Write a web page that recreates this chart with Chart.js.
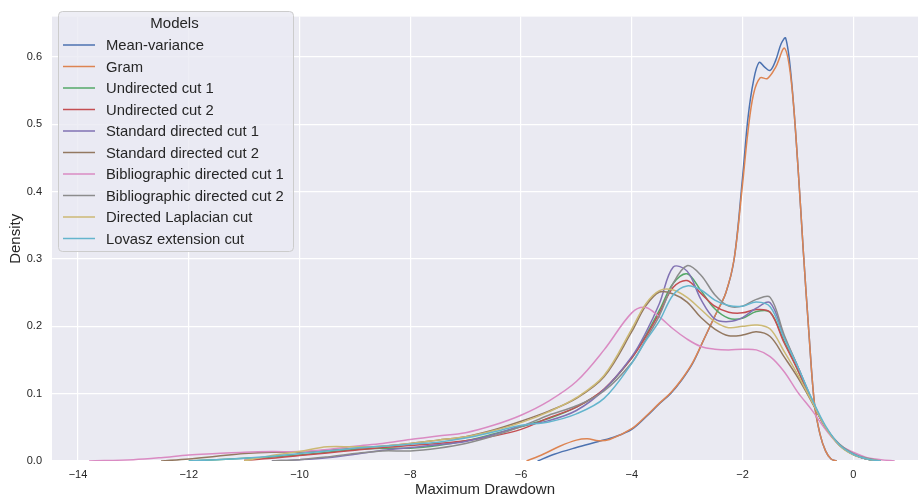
<!DOCTYPE html>
<html>
<head>
<meta charset="utf-8">
<script src="https://cdn.jsdelivr.net/npm/chart.js@4/dist/chart.umd.min.js"></script>
<style>
  html, body { margin: 0; padding: 0; background: #fff; }
  #wrap { width: 920px; height: 502px; }
</style>
</head>
<body>
<div id="wrap"><canvas id="kdeChart" width="920" height="502"></canvas></div>
<script>
// --- Data ---
const modelNames = [
  "Mean-variance", "Gram", "Undirected cut 1", "Undirected cut 2",
  "Standard directed cut 1", "Standard directed cut 2",
  "Bibliographic directed cut 1", "Bibliographic directed cut 2",
  "Directed Laplacian cut", "Lovasz extension cut"
];
const modelColors = [
  "#4c72b0", "#dd8452", "#55a868", "#c44e52", "#8172b3",
  "#937860", "#da8bc3", "#8c8c8c", "#ccb974", "#64b5cd"
];

const xTicks = [-14, -12, -10, -8, -6, -4, -2, 0];
const yTicks = [0, 0.1, 0.2, 0.3, 0.4, 0.5, 0.6];

// mean-variance and gram have their own x positions
const meanVarX = [-5.7, -5.4, -5.0, -4.6, -4.3, -4.0, -3.75, -3.5, -3.3, -3.1, -2.9, -2.7, -2.5, -2.3, -2.15, -2.0, -1.9, -1.8, -1.7, -1.6, -1.5, -1.4, -1.3, -1.22, -1.12, -1.0, -0.9, -0.8, -0.7, -0.6, -0.5, -0.4, -0.3];
const meanVarY = [0, 0.010, 0.020, 0.029, 0.036, 0.047, 0.065, 0.085, 0.100, 0.120, 0.145, 0.180, 0.215, 0.250, 0.300, 0.420, 0.510, 0.565, 0.592, 0.585, 0.580, 0.595, 0.620, 0.628, 0.570, 0.440, 0.310, 0.190, 0.085, 0.040, 0.015, 0.003, 0];

const gramX = [-5.9, -5.6, -5.3, -5.0, -4.8, -4.6, -4.4, -4.0, -3.75, -3.5, -3.3, -3.1, -2.9, -2.7, -2.5, -2.3, -2.15, -2.0, -1.9, -1.8, -1.68, -1.55, -1.4, -1.24, -1.12, -1.0, -0.9, -0.8, -0.7, -0.6, -0.5, -0.4, -0.3];
const gramY = [0, 0.010, 0.022, 0.031, 0.033, 0.030, 0.032, 0.048, 0.066, 0.086, 0.101, 0.121, 0.146, 0.180, 0.215, 0.250, 0.300, 0.410, 0.490, 0.545, 0.569, 0.568, 0.585, 0.613, 0.565, 0.440, 0.310, 0.190, 0.085, 0.040, 0.015, 0.003, 0];

// the eight cut models share one x grid (null = no curve there)
const cutX = [-13.8, -13, -12.5, -12, -11.5, -11, -10.5, -10, -9.5, -9, -8.5, -8, -7.5, -7, -6.5, -6, -5.5, -5, -4.5, -4, -3.75, -3.5, -3.25, -3, -2.75, -2.5, -2.25, -2, -1.75, -1.5, -1.25, -1, -0.75, -0.5, -0.25, 0, 0.25, 0.5, 0.75];

const undirected1Y = [null, null, null, 0, 0.002, 0.004, 0.006, 0.009, 0.013, 0.017, 0.019, 0.019, 0.023, 0.030, 0.040, 0.051, 0.063, 0.080, 0.106, 0.153, 0.186, 0.224, 0.264, 0.278, 0.253, 0.226, 0.212, 0.212, 0.222, 0.221, 0.178, 0.135, 0.089, 0.050, 0.024, 0.010, 0.003, 0, null];
const undirected2Y = [null, null, null, null, null, 0.001, 0.004, 0.008, 0.012, 0.016, 0.020, 0.023, 0.026, 0.030, 0.037, 0.047, 0.064, 0.080, 0.107, 0.153, 0.184, 0.220, 0.258, 0.268, 0.249, 0.230, 0.221, 0.220, 0.225, 0.221, 0.176, 0.135, 0.089, 0.050, 0.024, 0.010, 0.003, 0, null];
const standard1Y = [null, null, null, null, null, null, 0, 0.002, 0.005, 0.010, 0.016, 0.020, 0.024, 0.029, 0.039, 0.052, 0.060, 0.075, 0.106, 0.155, 0.190, 0.234, 0.288, 0.282, 0.240, 0.211, 0.207, 0.213, 0.227, 0.235, 0.185, 0.140, 0.091, 0.050, 0.024, 0.010, 0.003, 0, null];
const standard2Y = [null, null, 0, 0.003, 0.007, 0.011, 0.013, 0.013, 0.016, 0.019, 0.022, 0.026, 0.031, 0.036, 0.046, 0.059, 0.074, 0.093, 0.125, 0.192, 0.230, 0.251, 0.248, 0.236, 0.213, 0.196, 0.186, 0.187, 0.192, 0.185, 0.155, 0.124, 0.088, 0.050, 0.024, 0.010, 0.003, 0, null];
const biblio1Y = [0, 0.002, 0.005, 0.009, 0.011, 0.013, 0.014, 0.014, 0.017, 0.022, 0.026, 0.032, 0.037, 0.042, 0.053, 0.068, 0.089, 0.118, 0.165, 0.220, 0.228, 0.214, 0.196, 0.181, 0.170, 0.166, 0.165, 0.166, 0.165, 0.155, 0.133, 0.102, 0.076, 0.047, 0.024, 0.013, 0.005, 0.002, 0];
const biblio2Y = [null, null, null, null, null, null, 0, 0.002, 0.006, 0.011, 0.015, 0.015, 0.019, 0.026, 0.037, 0.051, 0.068, 0.082, 0.104, 0.146, 0.180, 0.216, 0.264, 0.290, 0.276, 0.247, 0.230, 0.230, 0.240, 0.243, 0.188, 0.140, 0.092, 0.050, 0.025, 0.011, 0.004, 0, null];
const laplacianY = [null, null, null, null, null, 0, 0.008, 0.014, 0.021, 0.021, 0.022, 0.026, 0.031, 0.036, 0.045, 0.057, 0.073, 0.094, 0.127, 0.196, 0.233, 0.253, 0.254, 0.243, 0.225, 0.207, 0.198, 0.200, 0.202, 0.196, 0.163, 0.128, 0.089, 0.050, 0.023, 0.009, 0.003, 0, null];
const lovaszY = [null, null, null, 0, 0.002, 0.004, 0.007, 0.011, 0.015, 0.019, 0.022, 0.025, 0.028, 0.034, 0.043, 0.053, 0.058, 0.070, 0.093, 0.145, 0.178, 0.208, 0.247, 0.260, 0.254, 0.239, 0.231, 0.230, 0.236, 0.229, 0.183, 0.140, 0.093, 0.052, 0.024, 0.010, 0.003, 0, null];

// --- Build datasets ---
function toPoints(xs, ys) {
  return xs.map((x, i) => ({ x: x, y: ys[i] }));
}

const seriesPoints = [
  toPoints(meanVarX, meanVarY),
  toPoints(gramX, gramY),
  toPoints(cutX, undirected1Y),
  toPoints(cutX, undirected2Y),
  toPoints(cutX, standard1Y),
  toPoints(cutX, standard2Y),
  toPoints(cutX, biblio1Y),
  toPoints(cutX, biblio2Y),
  toPoints(cutX, laplacianY),
  toPoints(cutX, lovaszY)
];

const datasets = modelNames.map((name, i) => ({
  label: name,
  data: seriesPoints[i],
  borderColor: modelColors[i],
  backgroundColor: modelColors[i],
  borderWidth: 1.5,
  pointRadius: 0,
  tension: 0.35,
  spanGaps: false,
  order: modelNames.length - i   // later series on top, like matplotlib
}));

const TEXT = "#262626";
const FONT = "'Liberation Sans', Arial, sans-serif";

// --- Plugins: plot background and boxed legend inside the plot ---
const plotBackground = {
  id: "plotBackground",
  beforeDraw(chart) {
    const { ctx, chartArea: a } = chart;
    ctx.save();
    ctx.fillStyle = "#eaeaf2";
    ctx.fillRect(a.left, a.top, a.right - a.left, a.bottom - a.top);
    ctx.restore();
  }
};

function roundRect(ctx, x, y, w, h, r) {
  ctx.beginPath();
  ctx.moveTo(x + r, y);
  ctx.lineTo(x + w - r, y);
  ctx.arcTo(x + w, y, x + w, y + r, r);
  ctx.lineTo(x + w, y + h - r);
  ctx.arcTo(x + w, y + h, x + w - r, y + h, r);
  ctx.lineTo(x + r, y + h);
  ctx.arcTo(x, y + h, x, y + h - r, r);
  ctx.lineTo(x, y + r);
  ctx.arcTo(x, y, x + r, y, r);
  ctx.closePath();
}

const boxLegend = {
  id: "boxLegend",
  afterDraw(chart) {
    const ctx = chart.ctx;
    const bx = 58, by = 11, bw = 235, bh = 240;
    ctx.save();
    roundRect(ctx, bx + 0.5, by + 0.5, bw, bh, 4);
    ctx.fillStyle = "rgba(234, 234, 242, 0.8)";
    ctx.fill();
    ctx.strokeStyle = "#cccccc";
    ctx.lineWidth = 1;
    ctx.stroke();

    ctx.fillStyle = TEXT;
    ctx.textBaseline = "middle";
    ctx.textAlign = "center";
    ctx.font = "15px " + FONT;
    ctx.fillText("Models", bx + bw / 2 - 1, 24);

    ctx.textAlign = "left";
    ctx.font = "14.8px " + FONT;
    chart.data.datasets.forEach((ds, i) => {
      const y = 45 + i * 21.5;
      ctx.strokeStyle = ds.borderColor;
      ctx.lineWidth = 1.5;
      ctx.beginPath();
      ctx.moveTo(63, y);
      ctx.lineTo(95, y);
      ctx.stroke();
      ctx.fillStyle = TEXT;
      ctx.fillText(ds.label, 106, y + 1);
    });
    ctx.restore();
  }
};

// --- Chart ---
const chart = new Chart(document.getElementById("kdeChart"), {
  type: "line",
  data: { datasets: datasets },
  options: {
    responsive: false,
    animation: false,
    events: [],
    layout: { padding: { top: 4, right: 2, left: 0, bottom: 0 } },
    plugins: {
      legend: { display: false },
      tooltip: { enabled: false }
    },
    scales: {
      x: {
        type: "linear",
        min: -14.47,
        max: 1.17,
        afterFit: (s) => { s.height = 41; },
        afterBuildTicks: (s) => { s.ticks = xTicks.map((v) => ({ value: v })); },
        ticks: {
          color: TEXT,
          font: { family: FONT, size: 11 },
          padding: 7,
          maxRotation: 0,
          callback: (v) => String(v).replace("-", "\u2212")
        },
        grid: { color: "#ffffff", lineWidth: 1.2, drawTicks: false },
        border: { display: false },
        title: {
          display: true,
          text: "Maximum Drawdown",
          color: TEXT,
          font: { family: FONT, size: 15 },
          padding: { top: 0, bottom: 3 }
        }
      },
      y: {
        type: "linear",
        min: 0,
        max: 0.66,
        afterFit: (s) => { s.width = 52; },
        afterBuildTicks: (s) => { s.ticks = yTicks.map((v) => ({ value: v })); },
        ticks: {
          color: TEXT,
          font: { family: FONT, size: 11 },
          padding: 10,
          callback: (v) => Number(v).toFixed(1)
        },
        grid: { color: "#ffffff", lineWidth: 1.2, drawTicks: false },
        border: { display: false },
        title: {
          display: true,
          text: "Density",
          color: TEXT,
          font: { family: FONT, size: 15 },
          padding: { top: 7, bottom: 0 }
        }
      }
    }
  },
  plugins: [plotBackground, boxLegend]
});
</script>
</body>
</html>
